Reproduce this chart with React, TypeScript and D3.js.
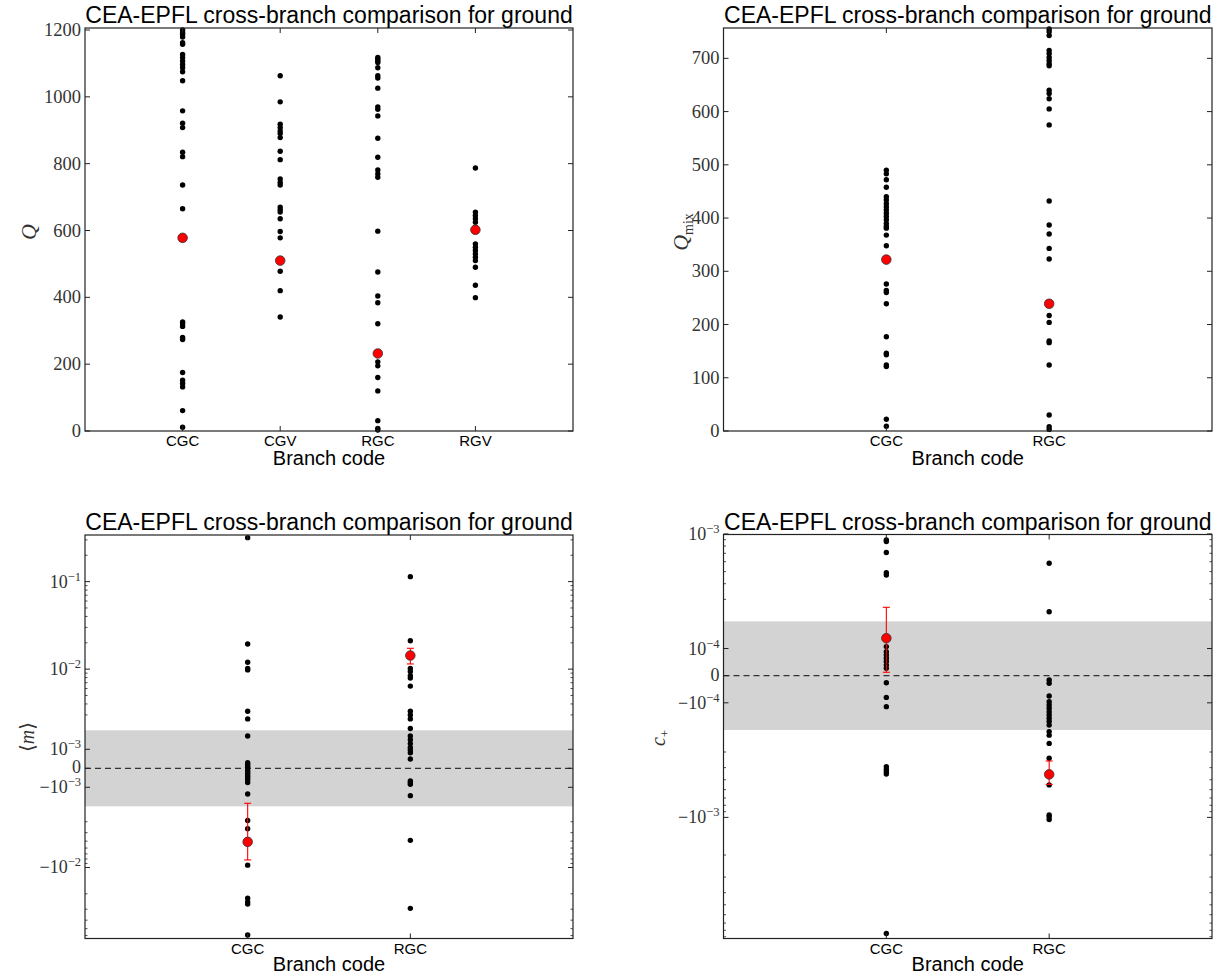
import React from 'react';
import * as d3 from 'd3';

const TITLE = 'CEA-EPFL cross-branch comparison for ground';

// ---------- Panel 1: Q ----------
const qCategories = ['CGC', 'CGV', 'RGC', 'RGV'];
const qCGC = [1200, 1192, 1187, 1179, 1162, 1157, 1127, 1117, 1107, 1097, 1087, 1075, 1048, 958, 921, 908, 834, 821, 736, 665, 326, 321, 313, 280, 274, 175, 152, 142, 132, 61, 11];
const qCGV = [1063, 985, 918, 908, 898, 890, 878, 837, 812, 754, 744, 736, 670, 662, 655, 635, 597, 578, 478, 420, 341];
const qRGC = [1118, 1113, 1108, 1103, 1087, 1063, 1056, 1026, 970, 963, 943, 876, 819, 781, 769, 759, 598, 476, 404, 384, 321, 207, 195, 160, 120, 31, 8, 3];
const qRGV = [787, 655, 645, 635, 625, 610, 560, 550, 540, 530, 520, 510, 490, 436, 399];
const qCenters = [578, 510, 232, 602];
const qTicks = [0, 200, 400, 600, 800, 1000, 1200];

// ---------- Panel 2: Q_mix ----------
const qmixCategories = ['CGC', 'RGC'];
const qmixCGC = [490, 483, 472, 458, 440, 434, 427, 421, 415, 409, 403, 397, 390, 384, 381, 368, 348, 276, 264, 260, 239, 177, 146, 143, 124, 121, 22, 9];
const qmixRGC = [755, 750, 743, 715, 709, 702, 696, 690, 686, 640, 634, 624, 605, 575, 432, 387, 370, 343, 323, 217, 204, 169, 166, 124, 30, 8, 3];
const qmixCenters = [322, 239];
const qmixTicks = [0, 100, 200, 300, 400, 500, 600, 700];

// ---------- Panel 3: <m> ----------
const mCategories = ['CGC', 'RGC'];
const mCGC = [0.318, 0.0194, 0.012, 0.0102, 0.0098, 0.0033, 0.0027, 0.0017, 0.0003, 0.00022, 0.00012, 0.00005, -0.0001, -0.0002, -0.0003, -0.0004, -0.0005, -0.0006, -0.00075, -0.00135, -0.0029, -0.0036, -0.0094, -0.0225, -0.0247, -0.0262, -0.0592];
const mRGC = [0.114, 0.0211, 0.0102, 0.0094, 0.0084, 0.0079, 0.0064, 0.0033, 0.003, 0.0027, 0.0021, 0.0017, 0.0015, 0.0013, 0.0011, 0.00096, 0.00082, 0.00049, -0.00067, -0.00076, -0.00084, -0.00144, -0.0049, -0.0293];
const mCenters = [-0.0051, 0.0143];
const mErrLow = [-0.0082, 0.01146];
const mErrHigh = [-0.00184, 0.0173];
const mTicks = [-0.01, -0.001, 0, 0.001, 0.01, 0.1];

// ---------- Panel 4: c+ ----------
const cCategories = ['CGC', 'RGC'];
const cCGC = [8.96e-4, 8.69e-4, 7.1e-4, 4.9e-4, 4.7e-4, 1.07e-4, 8.8e-5, 7.6e-5, 6.4e-5, 5.2e-5, 3.9e-5, 2.7e-5, -2.6e-5, -8e-5, -1.14e-4, -3.93e-4, -4.13e-4, -4.32e-4, -4.5e-4, -8.48e-3];
const cRGC = [5.83e-4, 2.39e-4, -1.6e-5, -2.8e-5, -7.5e-5, -9.6e-5, -1.08e-4, -1.2e-4, -1.33e-4, -1.45e-4, -1.57e-4, -1.69e-4, -1.82e-4, -2.06e-4, -2.2e-4, -2.56e-4, -3.37e-4, -5.5e-4, -9.57e-4, -9.88e-4, -1.04e-3];
const cCenters = [1.38e-4, -4.53e-4];
const cErrLow = [1.25e-5, -5.45e-4];
const cErrHigh = [2.59e-4, -3.54e-4];
const cTicks = [-0.001, -0.0001, 0, 0.0001, 0.001];

const LIN = 1 / Math.LN10;
function symT(v: number, lt: number) {
  const a = Math.abs(v);
  if (a <= lt) return (v / lt) * LIN;
  return Math.sign(v) * (LIN + Math.log10(a / lt));
}

type Spec = {
  left: number; top: number; right: number; bottom: number;
  cats: string[]; values: number[][]; centers: number[];
  errLo?: number[]; errHi?: number[];
  kind: 'linear' | 'symlog'; yMin: number; yMax: number; lt?: number;
  ticks: number[]; ylabel: React.ReactNode; xlabelOffset: number;
};

const SERIF = '"Liberation Serif", "DejaVu Serif", serif';
const SANS = '"Liberation Sans", Arial, sans-serif';
const AX = '#222';

function SymLabel({ v, x, y }: { v: number; x: number; y: number }) {
  if (v === 0) return <text x={x} y={y - 1} textAnchor="end" dominantBaseline="central" fontFamily={SERIF} fontSize={18} fill="#333">0</text>;
  const e = Math.round(Math.log10(Math.abs(v)));
  return (
    <text x={x} y={y + 6} textAnchor="end" fontFamily={SERIF} fontSize={18} fill="#333">
      <tspan>{v < 0 ? '\u221210' : '10'}</tspan>
      <tspan dy={-7} fontSize={12.5}>{'\u2212' + Math.abs(e)}</tspan>
    </text>
  );
}

function Panel({ p }: { p: Spec }) {
  const n = p.cats.length;
  const x = d3.scaleLinear().domain([0, n + 1]).range([p.left, p.right]);
  const tf = (v: number) => (p.kind === 'symlog' ? symT(v, p.lt as number) : v);
  const ys = d3.scaleLinear().domain([tf(p.yMin), tf(p.yMax)]).range([p.bottom, p.top]);
  const y = (v: number) => ys(tf(v));
  const cx = (p.left + p.right) / 2;

  const minor: number[] = [];
  if (p.kind === 'symlog') {
    const lt = p.lt as number;
    for (let e = -6; e <= 0; e++) {
      for (let k = 2; k <= 9; k++) {
        const v = k * Math.pow(10, e);
        if (v > lt && v < p.yMax) minor.push(v);
        if (v > lt && -v > p.yMin) minor.push(-v);
      }
    }
  }

  return (
    <g>
      {p.kind === 'symlog' && (
        <g>
          <rect x={p.left} width={p.right - p.left} y={y(p.lt as number)} height={y(-(p.lt as number)) - y(p.lt as number)} fill="#d3d3d3" />
          <line x1={p.left} x2={p.right} y1={y(0)} y2={y(0)} stroke="#333" strokeWidth={1.2} strokeDasharray="6,4" />
        </g>
      )}
      {p.values.map((col, i) =>
        col.map((v, j) => <circle key={i + '-' + j} cx={x(i + 1)} cy={y(v)} r={2.7} fill="#000" />)
      )}
      {p.errLo && p.errHi && p.centers.map((c, i) => (
        <g key={'e' + i} stroke="#ff0000" strokeWidth={1.1}>
          <line x1={x(i + 1)} x2={x(i + 1)} y1={y(p.errLo![i])} y2={y(p.errHi![i])} />
          <line x1={x(i + 1) - 3.5} x2={x(i + 1) + 3.5} y1={y(p.errLo![i])} y2={y(p.errLo![i])} />
          <line x1={x(i + 1) - 3.5} x2={x(i + 1) + 3.5} y1={y(p.errHi![i])} y2={y(p.errHi![i])} />
        </g>
      ))}
      {p.centers.map((c, i) => (
        <circle key={'c' + i} cx={x(i + 1)} cy={y(c)} r={4.8} fill="#ff0000" stroke="#333" strokeWidth={0.8} />
      ))}
      <rect x={p.left} y={p.top} width={p.right - p.left} height={p.bottom - p.top} fill="none" stroke={AX} strokeWidth={1.2} />
      {p.ticks.map((t) => (
        <g key={'t' + t}>
          <line x1={p.left} x2={p.left + 5} y1={y(t)} y2={y(t)} stroke={AX} strokeWidth={1} />
          <line x1={p.right} x2={p.right - 5} y1={y(t)} y2={y(t)} stroke={AX} strokeWidth={1} />
          {p.kind === 'linear' ? (
            <text x={p.left - 4} y={y(t)} textAnchor="end" dominantBaseline="central" fontFamily={SERIF} fontSize={18.5} fill="#333">{t}</text>
          ) : (
            <SymLabel v={t} x={p.left - 4} y={y(t)} />
          )}
        </g>
      ))}
      {minor.map((t, i) => (
        <g key={'m' + i}>
          <line x1={p.left} x2={p.left + 2.5} y1={y(t)} y2={y(t)} stroke={AX} strokeWidth={0.8} />
          <line x1={p.right} x2={p.right - 2.5} y1={y(t)} y2={y(t)} stroke={AX} strokeWidth={0.8} />
        </g>
      ))}
      {p.cats.map((c, i) => (
        <g key={'x' + c}>
          <line x1={x(i + 1)} x2={x(i + 1)} y1={p.bottom} y2={p.bottom - 5} stroke={AX} strokeWidth={1} />
          <line x1={x(i + 1)} x2={x(i + 1)} y1={p.top} y2={p.top + 5} stroke={AX} strokeWidth={1} />
          <text x={x(i + 1)} y={p.bottom + 15} textAnchor="middle" fontFamily={SANS} fontSize={15} fill="#000">{c}</text>
        </g>
      ))}
      <text x={cx} y={p.bottom + p.xlabelOffset} textAnchor="middle" fontFamily={SANS} fontSize={20} fill="#000">Branch code</text>
      <text x={cx} y={p.top - 5} textAnchor="middle" fontFamily={SANS} fontSize={23} fill="#000">{TITLE}</text>
      {p.ylabel}
    </g>
  );
}

export default function App() {
  const specs: Spec[] = [
    {
      left: 85, top: 28, right: 573, bottom: 431, xlabelOffset: 34,
      cats: qCategories, values: [qCGC, qCGV, qRGC, qRGV], centers: qCenters,
      kind: 'linear', yMin: 0, yMax: 1206, ticks: qTicks,
      ylabel: <text transform="translate(36,232) rotate(-90)" textAnchor="middle" fontFamily={SERIF} fontStyle="italic" fontSize={22} fill="#333">Q</text>,
    },
    {
      left: 723.5, top: 28, right: 1212, bottom: 431, xlabelOffset: 34,
      cats: qmixCategories, values: [qmixCGC, qmixRGC], centers: qmixCenters,
      kind: 'linear', yMin: 0, yMax: 757, ticks: qmixTicks,
      ylabel: (
        <text transform="translate(688,232) rotate(-90)" textAnchor="middle" fontFamily={SERIF} fontSize={22} fill="#333">
          <tspan fontStyle="italic">Q</tspan><tspan fontSize={14} dy={5}>mix</tspan>
        </text>
      ),
    },
    {
      left: 85, top: 535, right: 573, bottom: 938.5, xlabelOffset: 32,
      cats: mCategories, values: [mCGC, mRGC], centers: mCenters, errLo: mErrLow, errHi: mErrHigh,
      kind: 'symlog', lt: 2e-3, yMin: -0.0648, yMax: 0.341, ticks: mTicks,
      ylabel: (
        <text transform="translate(34,737) rotate(-90)" textAnchor="middle" fontFamily={SERIF} fontSize={20} fill="#333">
          {'\u27E8'}<tspan fontStyle="italic">m</tspan>{'\u27E9'}
        </text>
      ),
    },
    {
      left: 723.5, top: 534.5, right: 1212, bottom: 938.5, xlabelOffset: 32,
      cats: cCategories, values: [cCGC, cRGC], centers: cCenters, errLo: cErrLow, errHi: cErrHigh,
      kind: 'symlog', lt: 2e-4, yMin: -0.0093, yMax: 0.00099, ticks: cTicks,
      ylabel: (
        <text transform="translate(665,738) rotate(-90)" textAnchor="middle" fontFamily={SERIF} fontSize={20} fill="#333">
          <tspan fontStyle="italic">c</tspan><tspan fontSize={13} dy={4}>+</tspan>
        </text>
      ),
    },
  ];
  return (
    <svg width={1217} height={974} style={{ position: 'absolute', left: 0, top: 0, background: '#fff' }}>
      <rect width={1217} height={974} fill="#fff" />
      {specs.map((s, i) => <Panel key={i} p={s} />)}
    </svg>
  );
}
